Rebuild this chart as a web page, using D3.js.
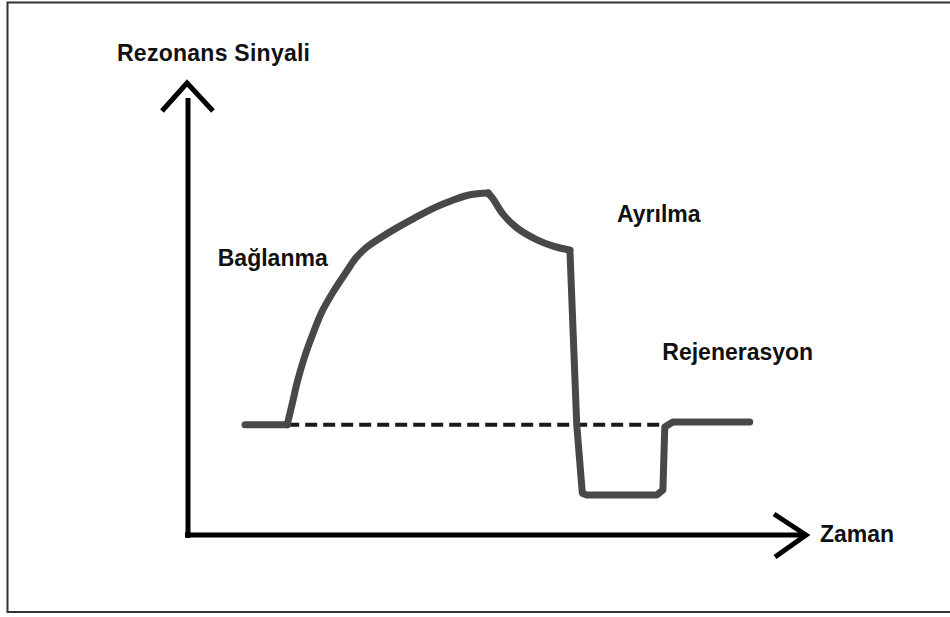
<!DOCTYPE html>
<html>
<head>
<meta charset="utf-8">
<script src="https://cdn.jsdelivr.net/npm/d3@7"></script>
<style>
  body { margin: 0; background: #fff; }
  svg text { font-family: "Liberation Sans", Arial, sans-serif; font-weight: bold; fill: #111; }
</style>
</head>
<body>
<div id="chart"></div>
<script>
// ==== DATA (time / signal, arbitrary units) ====
const BASELINE = 24.5;
const BASELINE_RANGE = [16.0, 77.0];

// initial flat baseline
const START_T = [9.2, 16.0];
const START_S = [24.5, 24.5];

// binding (association) phase
const BIND_T = [16.0, 16.8, 17.7, 18.9, 20.2, 21.6, 23.4, 25.5, 27.1, 28.7, 31.0, 33.6, 36.5, 39.7, 42.7, 45.5, 48.4];
const BIND_S = [24.5, 29.1, 34.4, 40.0, 44.9, 49.6, 54.0, 58.4, 61.6, 63.8, 66.0, 68.2, 70.4, 72.7, 74.4, 75.6, 76.0];

// dissociation phase
const DISS_T = [48.4, 49.2, 50.8, 53.1, 56.3, 58.9, 61.6];
const DISS_S = [76.0, 74.7, 71.3, 68.2, 65.6, 64.2, 63.3];

// regeneration phase
const REGEN_T = [61.6, 62.7, 63.6, 64.3, 75.6, 76.6, 76.9, 78.2, 90.6];
const REGEN_S = [63.3, 24.5, 9.3, 8.9, 8.9, 10.0, 24.0, 25.1, 25.1];

const LABELS = ["Bağlanma", "Ayrılma", "Rejenerasyon"];
const LABEL_T = [4.8, 69.2, 76.5];
const LABEL_S = [59.8, 69.6, 38.9];

const Y_TITLE = "Rezonans Sinyali";
const X_TITLE = "Zaman";

// ==== SIZE ====
const width = 950;
const height = 617;

const x = d3.scaleLinear().domain([0, 100]).range([188, 808]);
const y = d3.scaleLinear().domain([0, 100]).range([535, 85]);

const svg = d3.select("#chart")
  .append("svg")
  .attr("width", width)
  .attr("height", height);

// frame (right edge is cut off in the original)
svg.append("rect")
  .attr("x", 7.5).attr("y", 2.5)
  .attr("width", 948).attr("height", 609.5)
  .attr("fill", "none")
  .attr("stroke", "#333")
  .attr("stroke-width", 2);

// ==== AXES (hand drawn arrows) ====
const ax = svg.append("g")
  .attr("fill", "none")
  .attr("stroke", "#000")
  .attr("stroke-width", 5)
  .attr("stroke-linecap", "butt");

const x0 = x(0), y0 = y(0);
ax.append("line").attr("x1", x0).attr("y1", y0 + 3).attr("x2", x0).attr("y2", 98);
ax.append("path").attr("d", `M${x0 - 26},111 L${x0 - 1},83 L${x0 + 25},111`);
ax.append("line").attr("x1", x0 - 3).attr("y1", y0).attr("x2", 803).attr("y2", y0);
ax.append("path").attr("d", `M774,${y0 - 21} L806,${y0} L775,${y0 + 22}`);

svg.append("text")
  .attr("x", 117).attr("y", 61)
  .attr("font-size", 23)
  .attr("textLength", 193)
  .text(Y_TITLE);

svg.append("text")
  .attr("x", 820).attr("y", 542)
  .attr("font-size", 23)
  .text(X_TITLE);

// ==== BASELINE (dashed) ====
svg.append("line")
  .attr("x1", x(BASELINE_RANGE[0])).attr("x2", x(BASELINE_RANGE[1]))
  .attr("y1", y(BASELINE)).attr("y2", y(BASELINE))
  .attr("stroke", "#1a1a1a")
  .attr("stroke-width", 4)
  .attr("stroke-dasharray", "12,6");

// ==== SENSORGRAM ====
const zip = (ts, ss) => ts.map((t, i) => ({ t, s: ss[i] }));
const segments = [
  { pts: zip(START_T, START_S), curve: d3.curveLinear },
  { pts: zip(BIND_T, BIND_S), curve: d3.curveCatmullRom.alpha(0.5) },
  { pts: zip(DISS_T, DISS_S), curve: d3.curveCatmullRom.alpha(0.5) },
  { pts: zip(REGEN_T, REGEN_S), curve: d3.curveLinear }
];

svg.append("g").selectAll("path")
  .data(segments)
  .enter()
  .append("path")
  .attr("fill", "none")
  .attr("stroke", "#484848")
  .attr("stroke-width", 7)
  .attr("stroke-linecap", "round")
  .attr("stroke-linejoin", "round")
  .attr("d", d => d3.line().x(p => x(p.t)).y(p => y(p.s)).curve(d.curve)(d.pts));

// phase labels
svg.append("g").selectAll("text")
  .data(LABELS)
  .enter()
  .append("text")
  .attr("x", (d, i) => x(LABEL_T[i]))
  .attr("y", (d, i) => y(LABEL_S[i]))
  .attr("font-size", 23)
  .text(d => d);
</script>
</body>
</html>
